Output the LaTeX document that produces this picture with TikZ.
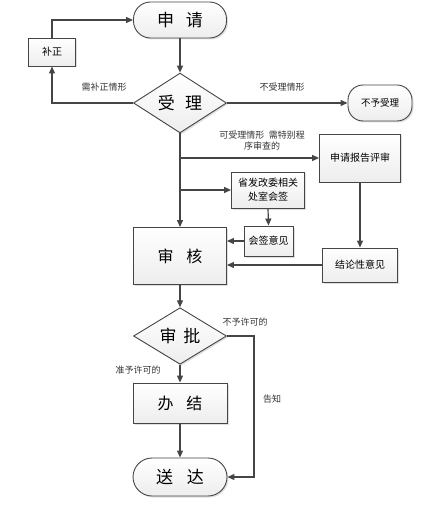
\documentclass[tikz,border=0pt]{standalone}
\usepackage{fontspec}
\setmainfont{Noto Sans CJK SC}
\usetikzlibrary{shapes.geometric,shadows,arrows.meta}
\definecolor{ln}{HTML}{454545}
\tikzset{
  arr/.style={draw=ln,line width=1.2pt,-{Triangle[length=7pt,width=6pt]}},
  ln/.style={draw=ln,line width=1.2pt},
  base/.style={draw=ln,line width=0.9pt,top color=white,bottom color=gray!14,
    drop shadow={opacity=0.25,shadow xshift=1.5pt,shadow yshift=-1.5pt},inner sep=0pt,align=center},
  term/.style={base,rounded corners=17pt,minimum width=93pt,minimum height=36pt,font=\fontsize{17}{19}\selectfont},
  term2/.style={base,rounded corners=15pt,minimum width=64pt,minimum height=36pt,font=\fontsize{9.5}{12}\selectfont},
  dec/.style={base,diamond,minimum width=93pt,minimum height=55pt,font=\fontsize{17}{19}\selectfont},
  bigbox/.style={base,minimum width=93pt,font=\fontsize{16}{18}\selectfont},
  sbox/.style={base,font=\fontsize{10}{14}\selectfont},
  lab/.style={font=\fontsize{9}{11}\selectfont,text=black!80,inner sep=0pt,align=center},
}
\begin{document}
\begin{tikzpicture}[x=1pt,y=-1pt]
\useasboundingbox (0,0) rectangle (438,529);
\node[term] (shenqing) at (180,20) {申\hspace{0.7em}请};
\node[sbox,minimum width=47pt,minimum height=28pt] (buzheng) at (52,52) {补正};
\node[dec] (shouli) at (180,103) {受\hspace{0.6em}理};
\node[term2] (buyu) at (380,103) {不予受理};
\node[sbox,minimum width=81pt,minimum height=48pt] (pingshen) at (360,158) {申请报告评审};
\node[sbox,minimum width=73pt,minimum height=36pt] (huiqian) at (268,190) {省发改委相关\\处室会签};
\node[sbox,minimum width=49pt,minimum height=30pt] (hqyj) at (268.5,241) {会签意见};
\node[sbox,minimum width=75pt,minimum height=34pt] (jielun) at (360,265) {结论性意见};
\node[bigbox,minimum height=57pt] (shenhe) at (180,256) {审\hspace{0.8em}核};
\node[dec,minimum height=56pt] (shenpi) at (180,336) {审\hspace{0.4em}批};
\node[bigbox,minimum width=94pt,minimum height=40pt] (banjie) at (180,403) {办\hspace{0.8em}结};
\node[term,minimum width=94pt,minimum height=38pt,rounded corners=19pt] (songda) at (180,477) {送\hspace{0.8em}达};

\coordinate (b1) at (180,158);
\coordinate (b2) at (180,190);
\coordinate (gz) at (254,336);

\draw[arr] (shenqing) -- (shouli);
\draw[arr] (shouli.west) -| (buzheng.south);
\draw[arr] (buzheng.north) |- (shenqing.west);
\draw[arr] (shouli.east) -- (buyu.west);
\draw[arr] (shouli.south) -- (shenhe.north);
\draw[arr] (b1) -- (pingshen.west);
\draw[arr] (b2) -- (huiqian.west);
\draw[arr] (huiqian.south) -- (hqyj.north);
\draw[arr] (hqyj.west) -- (hqyj.west -| shenhe.east);
\draw[arr] (pingshen.south) -- (jielun.north);
\draw[arr] (jielun.west) -- (jielun.west -| shenhe.east);
\draw[arr] (shenhe.south) -- (shenpi.north);
\draw[arr] (shenpi.south) -- (banjie.north);
\draw[arr] (banjie.south) -- (songda.north);
\draw[arr] (shenpi.east) -- (gz) |- (songda.east);

\node[lab] (l1) at (104,87) {需补正情形};
\node[lab] (l2) at (282,87) {不受理情形};
\node[lab] (l3) at (262,141) {可受理情形\hspace{0.5em}需特别程\\序审查的};
\node[lab] (l4) at (245,322) {不予许可的};
\node[lab] (l5) at (138,370) {准予许可的};
\node[lab] (l6) at (272,399) {告知};
\end{tikzpicture}
\end{document}
